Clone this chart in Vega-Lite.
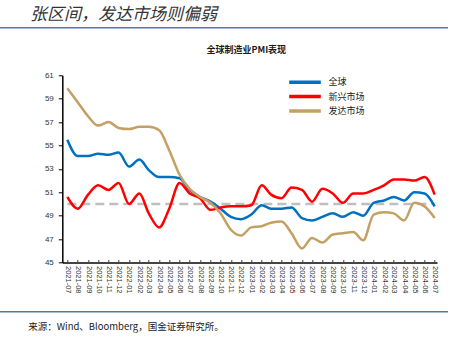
{
  "$schema": "https://vega.github.io/schema/vega-lite/v6.json",
  "width": 374.7,
  "height": 187.2,
  "autosize": {"type": "none"},
  "padding": {"left": 62.3, "top": 75.3, "right": 23, "bottom": 79.5},
  "background": "white",
  "config": {"view": {"stroke": null}, "font": "Noto Sans CJK SC"},
  "title": {
    "text": "张区间，发达市场则偏弱",
    "anchor": "start",
    "frame": "group",
    "dx": -32.3,
    "offset": 3,
    "fontSize": 17,
    "font": "Noto Sans CJK SC",
    "fontStyle": "italic",
    "fontWeight": "normal",
    "color": "#333333"
  },
  "data": {
    "values": [
      {"month": "2021-07", "series": "全球", "value": 55.5},
      {"month": "2021-08", "series": "全球", "value": 54.1},
      {"month": "2021-09", "series": "全球", "value": 54.1},
      {"month": "2021-10", "series": "全球", "value": 54.3},
      {"month": "2021-11", "series": "全球", "value": 54.2},
      {"month": "2021-12", "series": "全球", "value": 54.4},
      {"month": "2022-01", "series": "全球", "value": 53.2},
      {"month": "2022-02", "series": "全球", "value": 53.8},
      {"month": "2022-03", "series": "全球", "value": 52.9},
      {"month": "2022-04", "series": "全球", "value": 52.3},
      {"month": "2022-05", "series": "全球", "value": 52.3},
      {"month": "2022-06", "series": "全球", "value": 52.2},
      {"month": "2022-07", "series": "全球", "value": 51.2},
      {"month": "2022-08", "series": "全球", "value": 50.6},
      {"month": "2022-09", "series": "全球", "value": 50.2},
      {"month": "2022-10", "series": "全球", "value": 49.6},
      {"month": "2022-11", "series": "全球", "value": 48.9},
      {"month": "2022-12", "series": "全球", "value": 48.7},
      {"month": "2023-01", "series": "全球", "value": 49.1},
      {"month": "2023-02", "series": "全球", "value": 49.9},
      {"month": "2023-03", "series": "全球", "value": 49.6},
      {"month": "2023-04", "series": "全球", "value": 49.6},
      {"month": "2023-05", "series": "全球", "value": 49.7},
      {"month": "2023-06", "series": "全球", "value": 48.8},
      {"month": "2023-07", "series": "全球", "value": 48.6},
      {"month": "2023-08", "series": "全球", "value": 48.9},
      {"month": "2023-09", "series": "全球", "value": 49.2},
      {"month": "2023-10", "series": "全球", "value": 48.9},
      {"month": "2023-11", "series": "全球", "value": 49.3},
      {"month": "2023-12", "series": "全球", "value": 49.0},
      {"month": "2024-01", "series": "全球", "value": 50.1},
      {"month": "2024-02", "series": "全球", "value": 50.3},
      {"month": "2024-03", "series": "全球", "value": 50.6},
      {"month": "2024-04", "series": "全球", "value": 50.3},
      {"month": "2024-05", "series": "全球", "value": 51.0},
      {"month": "2024-06", "series": "全球", "value": 50.9},
      {"month": "2024-07", "series": "全球", "value": 49.8},
      {"month": "2021-07", "series": "新兴市场", "value": 50.6},
      {"month": "2021-08", "series": "新兴市场", "value": 49.6},
      {"month": "2021-09", "series": "新兴市场", "value": 50.8},
      {"month": "2021-10", "series": "新兴市场", "value": 51.6},
      {"month": "2021-11", "series": "新兴市场", "value": 51.2},
      {"month": "2021-12", "series": "新兴市场", "value": 51.8},
      {"month": "2022-01", "series": "新兴市场", "value": 50.0},
      {"month": "2022-02", "series": "新兴市场", "value": 50.9},
      {"month": "2022-03", "series": "新兴市场", "value": 49.2},
      {"month": "2022-04", "series": "新兴市场", "value": 48.0},
      {"month": "2022-05", "series": "新兴市场", "value": 49.6},
      {"month": "2022-06", "series": "新兴市场", "value": 51.8},
      {"month": "2022-07", "series": "新兴市场", "value": 50.9},
      {"month": "2022-08", "series": "新兴市场", "value": 50.5},
      {"month": "2022-09", "series": "新兴市场", "value": 49.5},
      {"month": "2022-10", "series": "新兴市场", "value": 49.7},
      {"month": "2022-11", "series": "新兴市场", "value": 49.8},
      {"month": "2022-12", "series": "新兴市场", "value": 49.8},
      {"month": "2023-01", "series": "新兴市场", "value": 49.9},
      {"month": "2023-02", "series": "新兴市场", "value": 51.6},
      {"month": "2023-03", "series": "新兴市场", "value": 50.8},
      {"month": "2023-04", "series": "新兴市场", "value": 50.5},
      {"month": "2023-05", "series": "新兴市场", "value": 51.4},
      {"month": "2023-06", "series": "新兴市场", "value": 51.2},
      {"month": "2023-07", "series": "新兴市场", "value": 50.2},
      {"month": "2023-08", "series": "新兴市场", "value": 51.3},
      {"month": "2023-09", "series": "新兴市场", "value": 50.9},
      {"month": "2023-10", "series": "新兴市场", "value": 50.1},
      {"month": "2023-11", "series": "新兴市场", "value": 50.9},
      {"month": "2023-12", "series": "新兴市场", "value": 50.9},
      {"month": "2024-01", "series": "新兴市场", "value": 51.2},
      {"month": "2024-02", "series": "新兴市场", "value": 51.6},
      {"month": "2024-03", "series": "新兴市场", "value": 52.1},
      {"month": "2024-04", "series": "新兴市场", "value": 52.1},
      {"month": "2024-05", "series": "新兴市场", "value": 52.0},
      {"month": "2024-06", "series": "新兴市场", "value": 52.3},
      {"month": "2024-07", "series": "新兴市场", "value": 50.8},
      {"month": "2021-07", "series": "发达市场", "value": 59.9},
      {"month": "2021-08", "series": "发达市场", "value": 58.7},
      {"month": "2021-09", "series": "发达市场", "value": 57.5},
      {"month": "2021-10", "series": "发达市场", "value": 56.7},
      {"month": "2021-11", "series": "发达市场", "value": 57.0},
      {"month": "2021-12", "series": "发达市场", "value": 56.5},
      {"month": "2022-01", "series": "发达市场", "value": 56.4},
      {"month": "2022-02", "series": "发达市场", "value": 56.6},
      {"month": "2022-03", "series": "发达市场", "value": 56.6},
      {"month": "2022-04", "series": "发达市场", "value": 56.3},
      {"month": "2022-05", "series": "发达市场", "value": 54.6},
      {"month": "2022-06", "series": "发达市场", "value": 52.5},
      {"month": "2022-07", "series": "发达市场", "value": 51.3},
      {"month": "2022-08", "series": "发达市场", "value": 50.6},
      {"month": "2022-09", "series": "发达市场", "value": 50.1},
      {"month": "2022-10", "series": "发达市场", "value": 49.2},
      {"month": "2022-11", "series": "发达市场", "value": 47.8},
      {"month": "2022-12", "series": "发达市场", "value": 47.3},
      {"month": "2023-01", "series": "发达市场", "value": 48.0},
      {"month": "2023-02", "series": "发达市场", "value": 48.1},
      {"month": "2023-03", "series": "发达市场", "value": 48.4},
      {"month": "2023-04", "series": "发达市场", "value": 48.5},
      {"month": "2023-05", "series": "发达市场", "value": 47.5},
      {"month": "2023-06", "series": "发达市场", "value": 46.2},
      {"month": "2023-07", "series": "发达市场", "value": 47.1},
      {"month": "2023-08", "series": "发达市场", "value": 46.7},
      {"month": "2023-09", "series": "发达市场", "value": 47.4},
      {"month": "2023-10", "series": "发达市场", "value": 47.5},
      {"month": "2023-11", "series": "发达市场", "value": 47.6},
      {"month": "2023-12", "series": "发达市场", "value": 46.9},
      {"month": "2024-01", "series": "发达市场", "value": 49.1},
      {"month": "2024-02", "series": "发达市场", "value": 49.3},
      {"month": "2024-03", "series": "发达市场", "value": 49.2},
      {"month": "2024-04", "series": "发达市场", "value": 48.6},
      {"month": "2024-05", "series": "发达市场", "value": 50.1},
      {"month": "2024-06", "series": "发达市场", "value": 49.8},
      {"month": "2024-07", "series": "发达市场", "value": 48.8}
    ]
  },
  "layer": [
    {
      "data": {"values": [{}]},
      "mark": {"type": "rule", "color": "#4A7EA0", "strokeWidth": 1.5},
      "encoding": {
        "x": {"datum": {"year": 2020, "month": 12, "date": 12, "utc": true}, "type": "temporal"},
        "x2": {"datum": {"year": 2024, "month": 8, "date": 10, "utc": true}},
        "y": {"datum": 65.07, "type": "quantitative"}
      }
    },
    {
      "data": {"values": [{}]},
      "mark": {"type": "rule", "color": "#4A7EA0", "strokeWidth": 1.5},
      "encoding": {
        "x": {"datum": {"year": 2020, "month": 12, "date": 12, "utc": true}, "type": "temporal"},
        "x2": {"datum": {"year": 2024, "month": 8, "date": 10, "utc": true}},
        "y": {"datum": 40.8, "type": "quantitative"}
      }
    },
    {
      "data": {"values": [{}]},
      "mark": {"type": "rule", "color": "#BFBFBF", "strokeWidth": 2.5, "strokeDash": [9, 5]},
      "encoding": {
        "x": {"datum": {"year": 2021, "month": 7, "date": 1, "utc": true}, "type": "temporal"},
        "x2": {"datum": {"year": 2024, "month": 7, "date": 1, "utc": true}},
        "y": {"datum": 50, "type": "quantitative"}
      }
    },
    {
      "mark": {"type": "line", "interpolate": "monotone", "strokeWidth": 2.5},
      "encoding": {
        "x": {
          "field": "month",
          "type": "temporal",
          "scale": {
            "type": "utc",
            "nice": false,
            "domain": [
              {"year": 2021, "month": 6, "date": 16, "utc": true},
              {"year": 2024, "month": 7, "date": 8, "utc": true}
            ]
          },
          "axis": {
            "title": "来源：Wind、Bloomberg，国金证券研究所。",
            "titleX": -34.6,
            "titleY": 63.5,
            "titleAlign": "left",
            "titleBaseline": "middle",
            "titleFontSize": 9.5,
            "titleFontWeight": "normal",
            "titleFont": "Noto Sans CJK SC",
            "titleColor": "#222222",
            "format": "%Y-%m",
            "tickCount": {"interval": "month", "step": 1},
            "labelAngle": 90,
            "labelFontSize": 7.5,
            "labelFont": "Liberation Sans",
            "labelColor": "#333333",
            "labelPadding": 6,
            "labelOverlap": false,
            "labelFlush": false,
            "labelBound": false,
            "tickSize": -3,
            "tickColor": "#444444",
            "domainColor": "#444444",
            "domainWidth": 2,
            "grid": false
          }
        },
        "y": {
          "field": "value",
          "type": "quantitative",
          "scale": {"domain": [45, 61], "nice": false, "zero": false},
          "axis": {
            "title": "全球制造业PMI表现",
            "titleAngle": 0,
            "titleX": 183.5,
            "titleY": -26,
            "titleAlign": "center",
            "titleBaseline": "middle",
            "titleFontSize": 9,
            "titleFontWeight": "bold",
            "titleFont": "Noto Sans CJK SC",
            "titleColor": "#1a1a1a",
            "values": [45, 47, 49, 51, 53, 55, 57, 59, 61],
            "tickCount": 20,
            "labelOverlap": false,
            "labelFontSize": 8,
            "labelFont": "Liberation Sans",
            "labelColor": "#333333",
            "labelPadding": 5,
            "tickSize": 4,
            "tickColor": "#000000",
            "domainColor": "#000000",
            "domainWidth": 1.5,
            "grid": false
          }
        },
        "color": {
          "field": "series",
          "type": "nominal",
          "scale": {
            "domain": ["全球", "新兴市场", "发达市场"],
            "range": ["#0070C0", "#FF0000", "#C4A064"]
          },
          "legend": {
            "title": null,
            "orient": "none",
            "legendX": 224.7,
            "legendY": 0,
            "direction": "vertical",
            "padding": 0,
            "symbolType": "stroke",
            "symbolSize": 1000,
            "symbolStrokeWidth": 3.5,
            "clipHeight": 14,
            "rowPadding": 0.3,
            "labelFontSize": 9,
            "labelFont": "Noto Sans CJK SC",
            "labelColor": "#222222",
            "labelOffset": 5.5
          }
        }
      }
    }
  ]
}
